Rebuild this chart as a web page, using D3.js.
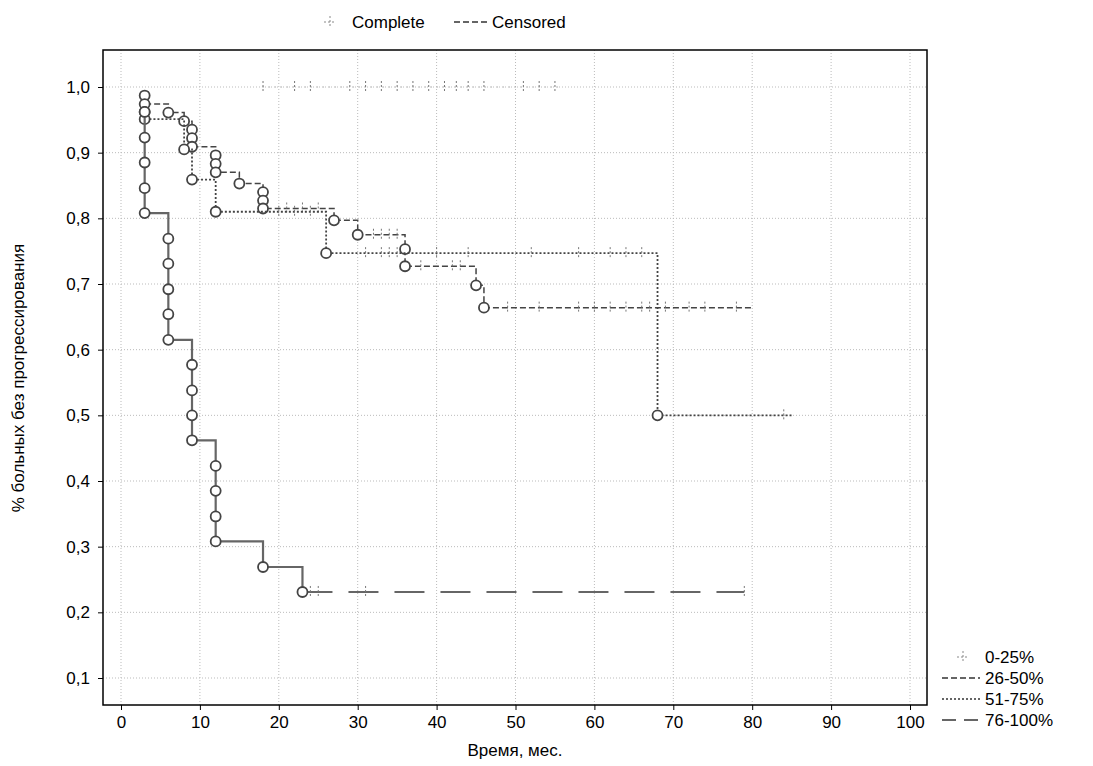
<!DOCTYPE html>
<html><head><meta charset="utf-8">
<script src="https://cdn.jsdelivr.net/npm/d3@7"></script>
<style>body{margin:0;background:#fff;font-family:Arial,"Liberation Sans",sans-serif}</style>
</head><body>
<svg width="1093" height="766"></svg>
<script>
// survival points [time, proportion], last point = end of follow-up
const s0_25 = [[18, 1], [56, 1]];
const s26_50 = [[3, 0.987], [3, 0.974], [6, 0.961], [8, 0.948], [9, 0.935], [9, 0.922], [9, 0.909],
  [12, 0.896], [12, 0.883], [12, 0.870], [15, 0.853], [18, 0.840], [18, 0.827], [18, 0.815],
  [27, 0.797], [30, 0.775], [36, 0.753], [36, 0.727], [45, 0.698], [46, 0.664], [80, 0.664]];
const s51_75 = [[3, 0.962], [3, 0.951], [8, 0.905], [9, 0.859], [12, 0.81], [26, 0.747], [68, 0.5], [85, 0.5]];
const s76_100 = [[3, 0.962], [3, 0.923], [3, 0.885], [3, 0.846], [3, 0.808],
  [6, 0.769], [6, 0.731], [6, 0.692], [6, 0.654], [6, 0.615],
  [9, 0.577], [9, 0.538], [9, 0.5], [9, 0.462],
  [12, 0.423], [12, 0.385], [12, 0.346], [12, 0.308], [18, 0.269], [23, 0.231], [79, 0.231]];
// censored times
const c0_25 = [18, 22, 24, 29, 31, 33, 35, 37, 39, 41, 42.5, 44, 46, 51, 53, 55];
const c26_50 = [21, 23, 25, 32, 33, 34, 35, 38, 42, 43, 49, 53, 58, 60, 62, 64, 66, 67, 69, 72, 74, 78];
const c51_75 = [20, 22, 24, 31, 33, 34, 35, 40, 44, 52, 58, 62, 64, 66, 84];
const c76_100 = [24, 25, 31, 79];
const xTicks = d3.range(0, 101, 10);
const yTicks = d3.range(0.1, 1.01, 0.1);
const groups = ["0-25%", "26-50%", "51-75%", "76-100%"];

const svg = d3.select("svg");
const L = 103, R = 927, T = 50, B = 705;
const x = d3.scaleLinear().domain([0, 100]).range([121, 910]);
const y = d3.scaleLinear().domain([0.1, 1]).range([678, 87]);

// grid
const g = svg.append("g");
g.selectAll(".vx").data(xTicks).join("line").attr("x1", x).attr("x2", x).attr("y1", T).attr("y2", B)
  .attr("stroke", "#bbb").attr("stroke-dasharray", "1,2");
g.selectAll(".hy").data(yTicks).join("line").attr("x1", L).attr("x2", R).attr("y1", y).attr("y2", y)
  .attr("stroke", "#bbb").attr("stroke-dasharray", "1,2");
svg.append("rect").attr("x", L).attr("y", T).attr("width", R - L).attr("height", B - T)
  .attr("fill", "none").attr("stroke", "#000").attr("stroke-width", 1.5);

// axes
const fmt = d => d3.format(".1f")(d).replace(".", ",");
svg.append("g").attr("transform", `translate(0,${B})`)
  .call(d3.axisBottom(x).tickValues(xTicks).tickSize(5).tickPadding(6))
  .call(a => a.select(".domain").remove())
  .call(a => a.selectAll("text").attr("font-size", 17).attr("fill", "#000").attr("font-family", "Arial, Liberation Sans"));
svg.append("g").attr("transform", `translate(${L},0)`)
  .call(d3.axisLeft(y).tickValues(yTicks).tickFormat(fmt).tickSize(5).tickPadding(8))
  .call(a => a.select(".domain").remove())
  .call(a => a.selectAll("text").attr("font-size", 17).attr("fill", "#000").attr("font-family", "Arial, Liberation Sans"));
svg.append("text").attr("x", 515).attr("y", 756).attr("text-anchor", "middle").attr("font-size", 17).text("Время, мес.");
svg.append("text").attr("transform", "translate(24,378) rotate(-90)").attr("text-anchor", "middle")
  .attr("font-size", 17).text("% больных без прогрессирования");

const line = d3.line().x(d => x(d[0])).y(d => y(d[1])).curve(d3.curveStepAfter);
const series = [
  {pts: s26_50, cens: c26_50, dash: "6,3", tail: "6,3", w: 1.5, col: "#444"},
  {pts: s51_75, cens: c51_75, dash: "2,2", tail: "2,2", w: 1.8, col: "#444"},
  {pts: s76_100, cens: c76_100, dash: null, tail: "30,16", w: 2.2, col: "#666"}
];
function levelAt(pts, t) {
  let v = pts[0][1];
  pts.forEach(p => { if (p[0] <= t) v = p[1]; });
  return v;
}
series.forEach(s => {
  const n = s.pts.length;
  svg.append("path").attr("d", line(s.pts.slice(0, n - 1))).attr("fill", "none").attr("stroke", s.col)
    .attr("stroke-width", s.w).attr("stroke-dasharray", s.dash);
  svg.append("path").attr("d", line(s.pts.slice(n - 2))).attr("fill", "none").attr("stroke", s.col)
    .attr("stroke-width", s.w).attr("stroke-dasharray", s.tail);
  svg.selectAll(null).data(s.cens).join("line")
    .attr("x1", x).attr("x2", x)
    .attr("y1", t => y(levelAt(s.pts, t)) - 6).attr("y2", t => y(levelAt(s.pts, t)) + 6)
    .attr("stroke", "#777").attr("stroke-dasharray", "2,2");
  svg.selectAll(null).data(s.pts.slice(0, -1)).join("circle")
    .attr("cx", d => x(d[0])).attr("cy", d => y(d[1])).attr("r", 5)
    .attr("fill", "#fff").attr("stroke", "#444").attr("stroke-width", 1.8);
});
// 0-25% group: only censored at 1.0
svg.append("path").attr("d", line(s0_25)).attr("fill", "none").attr("stroke", "#aaa").attr("stroke-dasharray", "1,5");
svg.selectAll(null).data(c0_25).join("line").attr("x1", x).attr("x2", x)
  .attr("y1", y(1) - 6).attr("y2", y(1) + 6).attr("stroke", "#777").attr("stroke-dasharray", "2,2");

// top legend
svg.append("line").attr("x1", 330).attr("x2", 330).attr("y1", 16).attr("y2", 28).attr("stroke", "#888").attr("stroke-dasharray", "2,2");
svg.append("line").attr("x1", 324).attr("x2", 336).attr("y1", 22).attr("y2", 22).attr("stroke", "#888").attr("stroke-dasharray", "2,2");
svg.append("text").attr("x", 352).attr("y", 28).attr("font-size", 17).text("Complete");
svg.append("line").attr("x1", 454).attr("x2", 488).attr("y1", 22).attr("y2", 22).attr("stroke", "#333").attr("stroke-dasharray", "6,3").attr("stroke-width", 1.5);
svg.append("text").attr("x", 492).attr("y", 28).attr("font-size", 17).text("Censored");

// right legend
const legDash = [null, "6,3", "2,2", "14,8"];
groups.forEach((name, i) => {
  const ly = 657 + i * 21;
  if (i === 0) {
    svg.append("line").attr("x1", 963).attr("x2", 963).attr("y1", ly - 6).attr("y2", ly + 6).attr("stroke", "#888").attr("stroke-dasharray", "2,2");
    svg.append("line").attr("x1", 957).attr("x2", 969).attr("y1", ly).attr("y2", ly).attr("stroke", "#888").attr("stroke-dasharray", "2,2");
  } else {
    svg.append("line").attr("x1", 942).attr("x2", 980).attr("y1", ly).attr("y2", ly)
      .attr("stroke", i === 3 ? "#666" : "#333").attr("stroke-width", i === 3 ? 2 : 1.5).attr("stroke-dasharray", legDash[i]);
  }
  svg.append("text").attr("x", 985).attr("y", ly + 6).attr("font-size", 17).text(name);
});
</script>
</body></html>
